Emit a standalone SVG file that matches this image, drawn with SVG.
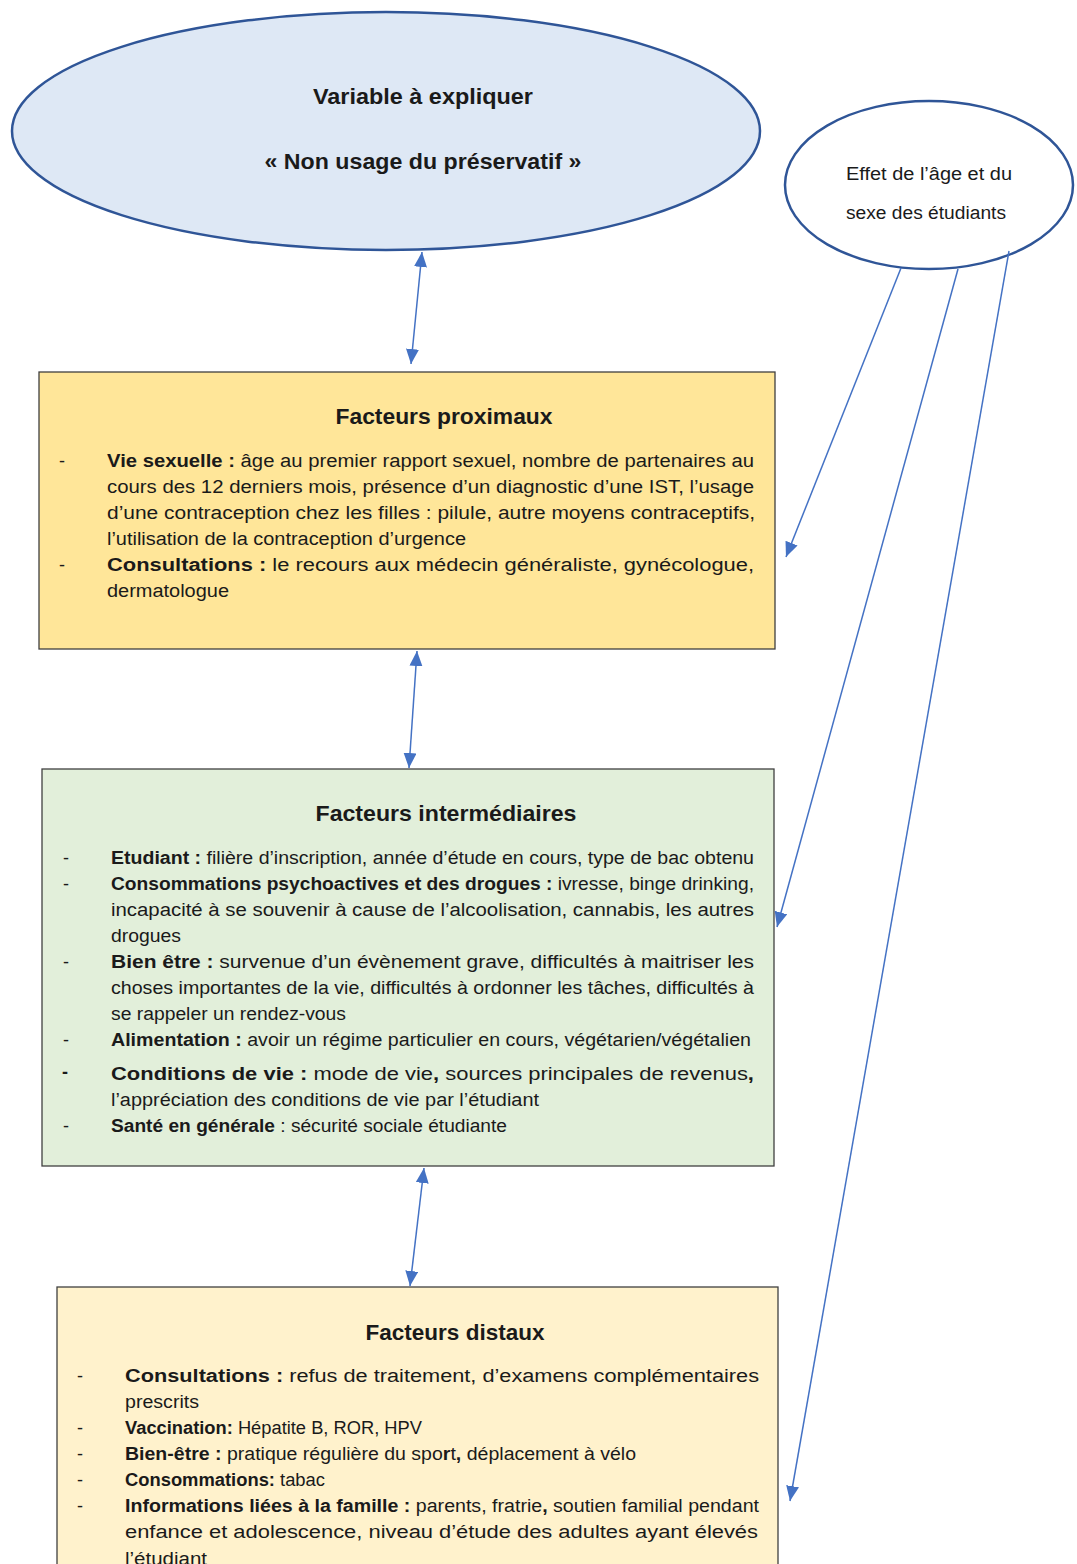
<svg xmlns="http://www.w3.org/2000/svg" width="1077" height="1564" viewBox="0 0 1077 1564">
<style>
text{font-family:"Liberation Sans",Arial,sans-serif;fill:#1a1a1a}
.t{font-size:18px}
.b{font-weight:bold}
.h{font-size:22px;font-weight:bold;text-anchor:middle}
.box{stroke:#404040;stroke-width:1.3}
.c{stroke:#4472c4;stroke-width:1.5;fill:none}
</style>
<defs>
<marker id="ah" markerWidth="16" markerHeight="14" refX="15" refY="6.5" orient="auto-start-reverse" markerUnits="userSpaceOnUse">
<path d="M0,0 L15,6.5 L0,13 z" fill="#4472c4"/>
</marker>
</defs>

<g id="node-variable">
<ellipse cx="386" cy="131" rx="374" ry="119" fill="#dee8f5" stroke="#2f5597" stroke-width="2.5"/>
<text class="h" x="423" y="104" textLength="220" lengthAdjust="spacingAndGlyphs">Variable à expliquer</text>
<text class="h" x="423" y="169" textLength="317" lengthAdjust="spacingAndGlyphs">« Non usage du préservatif »</text>
</g>

<g id="node-effet">
<ellipse cx="929" cy="185" rx="144" ry="84" fill="#ffffff" stroke="#2f5597" stroke-width="2.5"/>
<text class="t" x="846" y="180" textLength="166" lengthAdjust="spacingAndGlyphs">Effet de l’âge et du</text>
<text class="t" x="846" y="219" textLength="160" lengthAdjust="spacingAndGlyphs">sexe des étudiants</text>
</g>

<g id="node-proximaux">
<rect class="box" x="39" y="372" width="736" height="277" fill="#ffe699"/>
<text class="h" x="444" y="424" textLength="217" lengthAdjust="spacingAndGlyphs">Facteurs proximaux</text>
<text class="t" x="59" y="467">-</text>
<text class="t" x="107" y="467" textLength="647" lengthAdjust="spacingAndGlyphs"><tspan class="b">Vie sexuelle :</tspan> âge au premier rapport sexuel, nombre de partenaires au</text>
<text class="t" x="107" y="493" textLength="647" lengthAdjust="spacingAndGlyphs">cours des 12 derniers mois, présence d’un diagnostic d’une IST, l’usage</text>
<text class="t" x="107" y="519" textLength="648" lengthAdjust="spacingAndGlyphs">d’une contraception chez les filles : pilule, autre moyens contraceptifs,</text>
<text class="t" x="107" y="545" textLength="359" lengthAdjust="spacingAndGlyphs">l’utilisation de la contraception d’urgence</text>
<text class="t" x="59" y="571">-</text>
<text class="t" x="107" y="571" textLength="647" lengthAdjust="spacingAndGlyphs"><tspan class="b">Consultations :</tspan>  le  recours  aux  médecin  généraliste,  gynécologue,</text>
<text class="t" x="107" y="597" textLength="122" lengthAdjust="spacingAndGlyphs">dermatologue</text>
</g>

<g id="node-intermediaires">
<rect class="box" x="42" y="769" width="732" height="397" fill="#e2efda"/>
<text class="h" x="446" y="821" textLength="261" lengthAdjust="spacingAndGlyphs">Facteurs intermédiaires</text>
<text class="t" x="63" y="864">-</text>
<text class="t" x="111" y="864" textLength="643" lengthAdjust="spacingAndGlyphs"><tspan class="b">Etudiant :</tspan> filière d’inscription, année d’étude en cours, type de bac obtenu</text>
<text class="t" x="63" y="890">-</text>
<text class="t" x="111" y="890" textLength="643" lengthAdjust="spacingAndGlyphs"><tspan class="b">Consommations psychoactives et des drogues :</tspan> ivresse, binge drinking,</text>
<text class="t" x="111" y="916" textLength="643" lengthAdjust="spacingAndGlyphs">incapacité à se souvenir à cause de l’alcoolisation, cannabis, les autres</text>
<text class="t" x="111" y="942" textLength="70" lengthAdjust="spacingAndGlyphs">drogues</text>
<text class="t" x="63" y="968">-</text>
<text class="t" x="111" y="968" textLength="643" lengthAdjust="spacingAndGlyphs"><tspan class="b">Bien être :</tspan> survenue d’un évènement grave, difficultés à maitriser les</text>
<text class="t" x="111" y="994" textLength="643" lengthAdjust="spacingAndGlyphs">choses importantes de la vie, difficultés à ordonner les tâches, difficultés à</text>
<text class="t" x="111" y="1020" textLength="235" lengthAdjust="spacingAndGlyphs">se rappeler un rendez-vous</text>
<text class="t" x="63" y="1046">-</text>
<text class="t" x="111" y="1046" textLength="640" lengthAdjust="spacingAndGlyphs"><tspan class="b">Alimentation :</tspan> avoir un régime particulier en cours, végétarien/végétalien</text>
<text class="t b" x="62" y="1078">-</text>
<text class="t" x="111" y="1080" textLength="643" lengthAdjust="spacingAndGlyphs"><tspan class="b">Conditions de vie :</tspan> mode de vie<tspan class="b">,</tspan> sources principales de revenus<tspan class="b">,</tspan></text>
<text class="t" x="111" y="1106" textLength="428" lengthAdjust="spacingAndGlyphs">l’appréciation des conditions de vie par l’étudiant</text>
<text class="t" x="63" y="1132">-</text>
<text class="t" x="111" y="1132" textLength="396" lengthAdjust="spacingAndGlyphs"><tspan class="b">Santé en générale</tspan> : sécurité sociale étudiante</text>
</g>

<g id="node-distaux">
<rect class="box" x="57" y="1287" width="721" height="290" fill="#fff2cc"/>
<text class="h" x="455" y="1340" textLength="179" lengthAdjust="spacingAndGlyphs">Facteurs distaux</text>
<text class="t" x="77" y="1382">-</text>
<text class="t" x="125" y="1382" textLength="634" lengthAdjust="spacingAndGlyphs"><tspan class="b">Consultations :</tspan>  refus  de  traitement,  d’examens  complémentaires</text>
<text class="t" x="125" y="1408" textLength="74" lengthAdjust="spacingAndGlyphs">prescrits</text>
<text class="t" x="77" y="1434">-</text>
<text class="t" x="125" y="1434" textLength="297" lengthAdjust="spacingAndGlyphs"><tspan class="b">Vaccination:</tspan> Hépatite B, ROR, HPV</text>
<text class="t" x="77" y="1460">-</text>
<text class="t" x="125" y="1460" textLength="511" lengthAdjust="spacingAndGlyphs"><tspan class="b">Bien-être :</tspan> pratique régulière du spo<tspan class="b">r</tspan>t<tspan class="b">,</tspan> déplacement à vélo</text>
<text class="t" x="77" y="1486">-</text>
<text class="t" x="125" y="1486" textLength="200" lengthAdjust="spacingAndGlyphs"><tspan class="b">Consommations:</tspan> tabac</text>
<text class="t" x="77" y="1512">-</text>
<text class="t" x="125" y="1512" textLength="634" lengthAdjust="spacingAndGlyphs"><tspan class="b">Informations liées à la famille :</tspan> parents, fratrie<tspan class="b">,</tspan> soutien familial pendant</text>
<text class="t" x="125" y="1538" textLength="633" lengthAdjust="spacingAndGlyphs">enfance et adolescence, niveau d’étude des adultes ayant élevés</text>
<text class="t" x="125" y="1565" textLength="82" lengthAdjust="spacingAndGlyphs">l’étudiant</text>
</g>

<g id="connectors">
<line class="c" x1="422" y1="252" x2="411" y2="364" marker-start="url(#ah)" marker-end="url(#ah)"/>
<line class="c" x1="417" y1="651" x2="409" y2="768" marker-start="url(#ah)" marker-end="url(#ah)"/>
<line class="c" x1="424" y1="1168" x2="410" y2="1286" marker-start="url(#ah)" marker-end="url(#ah)"/>
<line class="c" x1="901" y1="268" x2="786" y2="557" marker-end="url(#ah)"/>
<line class="c" x1="958" y1="269" x2="777" y2="927" marker-end="url(#ah)"/>
<line class="c" x1="1009" y1="251" x2="790" y2="1501" marker-end="url(#ah)"/>
</g>
</svg>
